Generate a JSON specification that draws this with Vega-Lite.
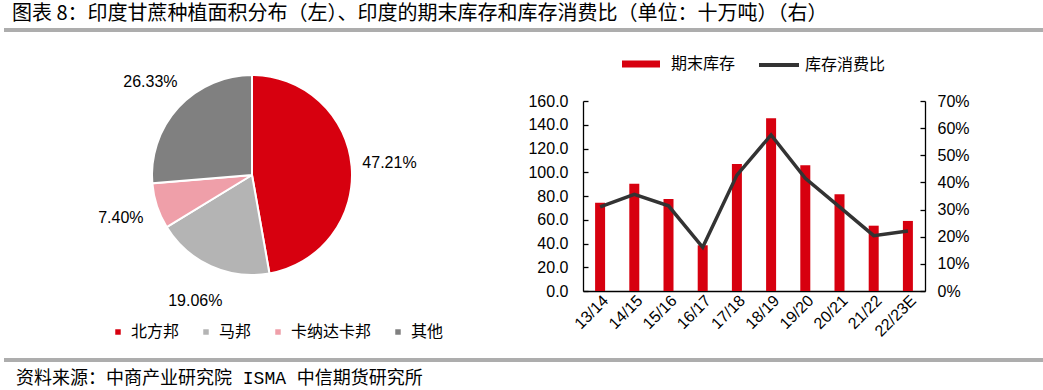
{
  "$schema": "https://vega.github.io/schema/vega-lite/v6.json",
  "padding": {"left": 4, "top": 4, "right": 0, "bottom": 0},
  "background": "white",
  "config": {
    "view": {"stroke": null},
    "font": "Liberation Sans, Noto Sans CJK SC",
    "axis": {"labelFont": "Liberation Sans", "labelFontSize": 16, "labelColor": "#000000", "domainColor": "#000000", "tickColor": "#000000", "domainWidth": 1.3, "tickWidth": 1.3, "grid": false},
    "legend": {"labelFont": "Noto Sans CJK SC", "labelFontSize": 16, "labelColor": "#000000", "padding": 0}
  },
  "spacing": 8,
  "resolve": {"scale": {"color": "independent", "stroke": "independent"}, "legend": {"color": "independent", "stroke": "independent"}},
  "vconcat": [
    {
      "title": {"text": "图表 8：印度甘蔗种植面积分布（左）、印度的期末库存和库存消费比（单位：十万吨）（右）", "anchor": "start", "font": "Noto Sans CJK SC", "fontSize": 20, "fontWeight": "normal", "color": "#000000", "offset": 0, "dx": 8},
      "width": 1039,
      "height": 4,
      "view": {"fill": "#ADADAD", "stroke": null},
      "data": {"values": [{}]},
      "mark": {"type": "text", "text": ""},
      "encoding": {}
    },
    {
      "spacing": 14,
      "resolve": {"scale": {"color": "independent", "stroke": "independent"}, "legend": {"color": "independent", "stroke": "independent"}},
      "vconcat": [
        {
          "spacing": 27,
          "resolve": {"scale": {"color": "independent", "stroke": "independent"}, "legend": {"color": "independent", "stroke": "independent"}},
          "hconcat": [
            {
              "width": 496,
              "height": 148,
              "data": {"values": [
                {"region": "北方邦", "share": 0.4721, "rank": 1},
                {"region": "马邦", "share": 0.1906, "rank": 2},
                {"region": "卡纳达卡邦", "share": 0.0740, "rank": 3},
                {"region": "其他", "share": 0.2633, "rank": 4}
              ]},
              "encoding": {
                "theta": {"field": "share", "type": "quantitative", "stack": true},
                "order": {"field": "rank", "type": "quantitative"}
              },
              "layer": [
                {
                  "mark": {"type": "arc", "outerRadius": 100, "stroke": "white", "strokeWidth": 2},
                  "encoding": {
                    "color": {
                      "field": "region", "type": "nominal",
                      "scale": {"domain": ["北方邦", "马邦", "卡纳达卡邦", "其他"], "range": ["#D7000F", "#B4B4B4", "#EF9FA9", "#808080"]},
                      "legend": {"orient": "none", "legendX": 106, "legendY": 223, "direction": "horizontal", "title": null, "symbolType": "square", "symbolSize": 30, "symbolStrokeWidth": 0, "labelOffset": 5, "columnPadding": 18}
                    }
                  }
                },
                {
                  "mark": {"type": "text", "radius": 138, "fontSize": 16, "font": "Liberation Sans", "color": "#000000"},
                  "encoding": {"text": {"field": "share", "type": "quantitative", "format": ".2%"}}
                }
              ]
            },
            {
              "width": 342,
              "height": 190,
              "data": {"values": [
                {"season": "13/14", "stock": 74.4, "ratio": 0.310},
                {"season": "14/15", "stock": 90.4, "ratio": 0.356},
                {"season": "15/16", "stock": 77.5, "ratio": 0.314},
                {"season": "16/17", "stock": 38.5, "ratio": 0.161},
                {"season": "17/18", "stock": 107.0, "ratio": 0.427},
                {"season": "18/19", "stock": 145.5, "ratio": 0.575},
                {"season": "19/20", "stock": 106.0, "ratio": 0.415},
                {"season": "20/21", "stock": 81.5, "ratio": 0.310},
                {"season": "21/22", "stock": 55.0, "ratio": 0.204},
                {"season": "22/23E", "stock": 59.0, "ratio": 0.221}
              ]},
              "encoding": {
                "x": {"field": "season", "type": "ordinal", "sort": null, "scale": {"paddingInner": 0, "paddingOuter": 0}, "axis": {"title": null, "labelAngle": -45, "ticks": false, "labelPadding": 1}}
              },
              "layer": [
                {
                  "mark": {"type": "bar", "width": 10},
                  "encoding": {
                    "y": {"field": "stock", "type": "quantitative", "scale": {"domain": [0, 160]}, "axis": {"title": null, "format": ".1f", "values": [0, 20, 40, 60, 80, 100, 120, 140, 160], "tickSize": -5, "labelPadding": 20}},
                    "color": {"datum": "期末库存", "scale": {"range": ["#D7000F"]}, "legend": {"orient": "none", "legendX": 38, "legendY": -57, "direction": "horizontal", "title": null, "symbolType": "M-1,-0.18H1V0.18H-1Z", "symbolSize": 1444, "labelOffset": 10}}
                  }
                },
                {
                  "mark": {"type": "line", "strokeWidth": 3.5},
                  "encoding": {
                    "y": {"field": "ratio", "type": "quantitative", "scale": {"domain": [0, 0.7]}, "axis": {"orient": "right", "title": null, "format": ".0%", "values": [0, 0.1, 0.2, 0.3, 0.4, 0.5, 0.6, 0.7], "tickSize": -5, "labelPadding": 17}},
                    "stroke": {"datum": "库存消费比", "scale": {"range": ["#333333"]}, "legend": {"orient": "none", "legendX": 174, "legendY": -58, "direction": "horizontal", "title": null, "symbolType": "stroke", "symbolSize": 1600, "symbolStrokeWidth": 4, "labelOffset": 4}}
                  }
                }
              ],
              "resolve": {"scale": {"y": "independent"}}
            }
          ]
        },
        {
          "title": {"text": "资料来源：中商产业研究院 ISMA 中信期货研究所", "orient": "bottom", "anchor": "start", "font": "Liberation Mono, Noto Sans CJK SC", "fontSize": 18, "fontWeight": "normal", "color": "#000000", "offset": 5, "dx": 12},
          "width": 1039,
          "height": 4,
          "view": {"fill": "#ADADAD", "stroke": null},
          "data": {"values": [{}]},
          "mark": {"type": "text", "text": ""},
          "encoding": {}
        }
      ]
    }
  ]
}
